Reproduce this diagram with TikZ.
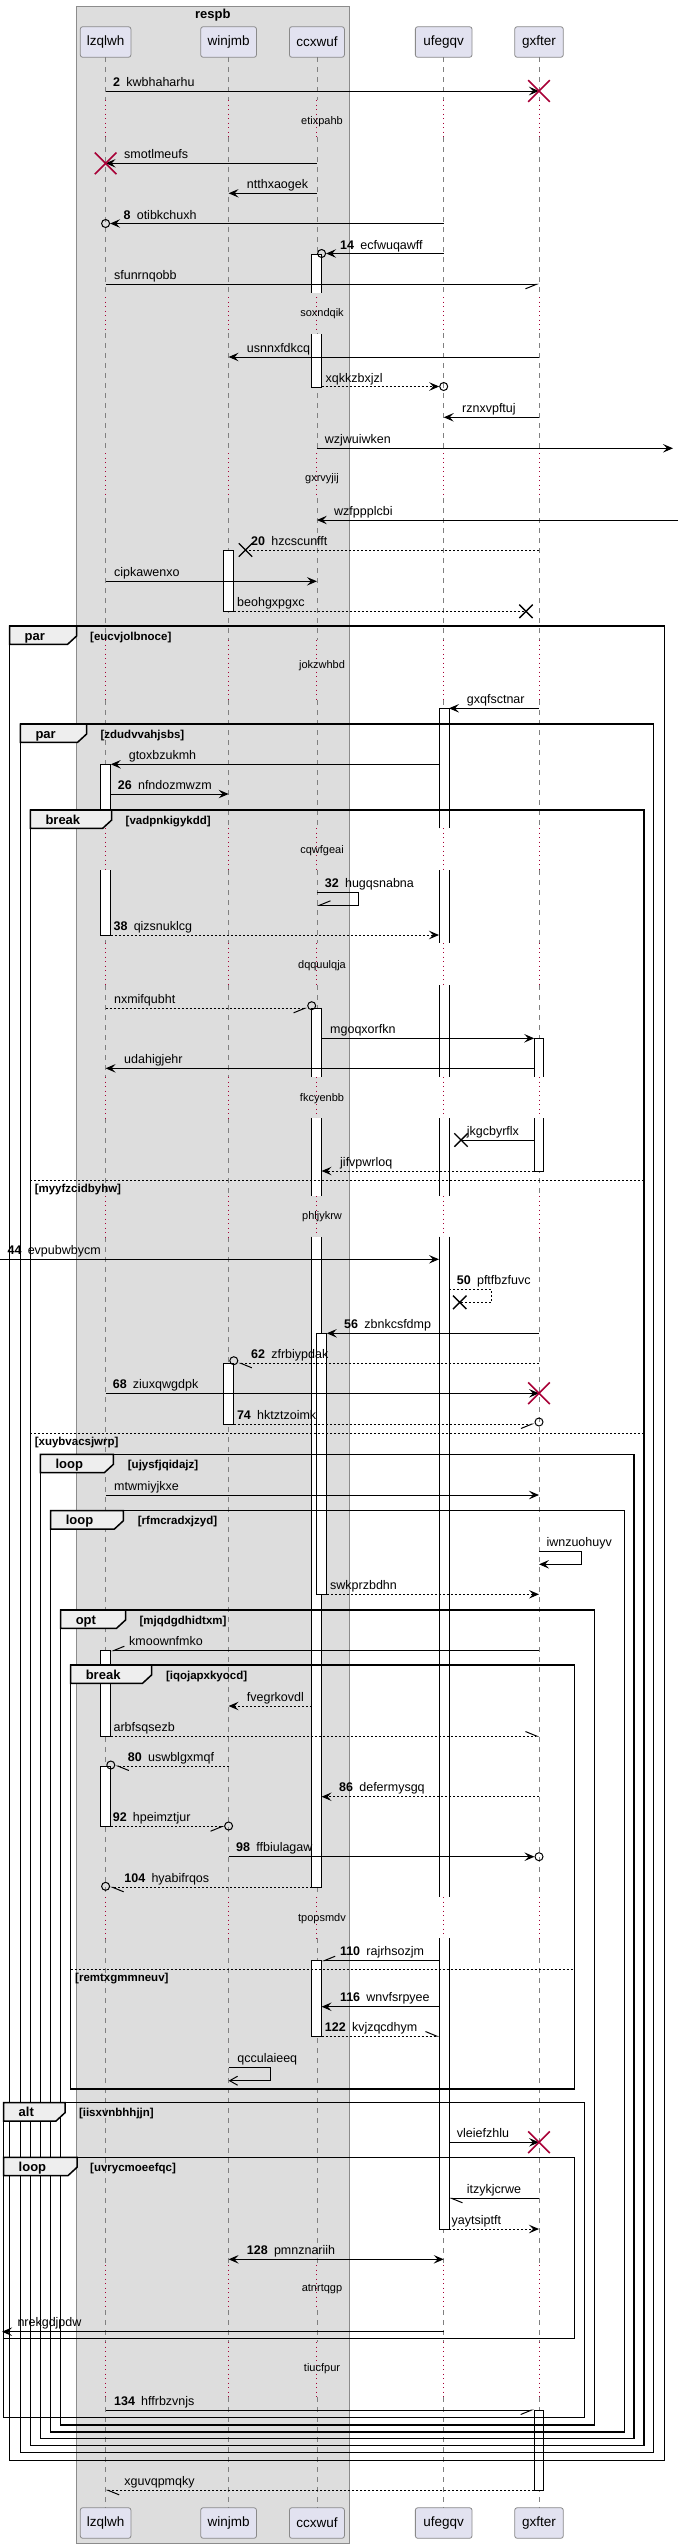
\documentclass[tikz,border=0pt]{standalone}
\usepackage{fontspec}
\setmainfont{Liberation Sans}
\usetikzlibrary{arrows.meta,shapes.misc}

\definecolor{boxgray}{HTML}{DDDDDD}
\definecolor{boxline}{HTML}{8C8C8C}
\definecolor{partfill}{HTML}{E2E2F0}
\definecolor{partline}{HTML}{8A8A8A}
\definecolor{lifegray}{HTML}{808080}
\definecolor{crimson}{HTML}{A80036}
\definecolor{tabfill}{HTML}{EEEEEE}

\newcommand{\seqno}[1]{\textbf{#1}\enspace}

% left, right, top, bottom, tab right, kind, condition, condition x
\newcommand{\seqgroup}[8]{%
  \draw[frameline] (#1,#3) rectangle (#2,#4);
  \filldraw[tab] (#1,#3) -- (#5,#3) -- (#5,#3+10) -- (#5-9,#3+18.3) -- (#1,#3+18.3) -- cycle;
  \node[kindlbl] (k#7) at (#1+15,#3+14) {#6};
  \node[condlbl] (c#7) at (#8,#3+14) {[#7]};
}

\tikzset{
  actor/.style={draw=partline, fill=partfill, rounded corners=2.5pt, minimum height=30.6pt,
    inner sep=0pt, line width=0.8pt, font=\fontsize{13.5}{16}\selectfont},
  lifeline/.style={draw=lifegray, dash pattern=on 5pt off 5pt, line width=0.8pt},
  delayline/.style={draw=crimson, dash pattern=on 1pt off 3.5pt, line width=1pt},
  msg/.style={draw=black, line width=1pt},
  reply/.style={msg, dash pattern=on 2pt off 2pt},
  filltip/.style={-{Stealth[length=10pt,width=8.5pt,inset=4pt]}},
  bothtip/.style={{Stealth[length=10pt,width=8.5pt,inset=4pt]}-{Stealth[length=10pt,width=8.5pt,inset=4pt]}},
  opentip/.style={-{Straight Barb[length=8pt,width=9pt]}},
  leftbarb/.style={-{Straight Barb[harpoon,length=11pt,width=9pt]}},
  rightbarb/.style={-{Straight Barb[harpoon,swap,length=11pt,width=9pt]}},
  lbl/.style={anchor=base west, inner sep=0pt, font=\fontsize{12.5}{14}\selectfont},
  dlbl/.style={inner sep=0pt, font=\fontsize{11}{13}\selectfont},
  kindlbl/.style={anchor=base west, inner sep=0pt, font=\bfseries\fontsize{13}{15}\selectfont},
  condlbl/.style={anchor=base west, inner sep=0pt, font=\bfseries\fontsize{11.5}{13}\selectfont},
  act/.style={draw=black, fill=white, line width=1pt},
  frameline/.style={draw=black, line width=1.5pt},
  tab/.style={frameline, fill=tabfill},
  sep/.style={draw=black, line width=1pt, dash pattern=on 2pt off 2pt},
  redx/.style={cross out, draw=crimson, line width=1.6pt, minimum size=20pt, inner sep=0pt},
  blackx/.style={cross out, draw=black, line width=1.4pt, minimum size=12pt, inner sep=0pt},
  ocirc/.style={circle, draw=black, line width=1pt, minimum size=8pt, inner sep=0pt},
}

\begin{document}
\begin{tikzpicture}[x=1pt, y=-1pt]
  \useasboundingbox (0,0) rectangle (678,2548);

  % box round the first three participants
  \filldraw[fill=boxgray, draw=boxline, line width=0.8pt] (76.6,6) rectangle (349,2543);
  \node[font=\bfseries\fontsize{13}{15}\selectfont] (respb) at (212.8,15.5) {respb};

  % participants
  \node[actor, minimum width=50.7pt] (lzqlwh) at (105.6,42) {lzqlwh};
  \node[actor, minimum width=55.8pt] (winjmb) at (228.6,42) {winjmb};
  \node[actor, minimum width=55pt] (ccxwuf) at (316.9,42) {ccxwuf};
  \node[actor, minimum width=56.7pt] (ufegqv) at (443.7,42) {ufegqv};
  \node[actor, minimum width=48.6pt] (gxfter) at (539,42) {gxfter};
  \node[actor, minimum width=50.7pt] (lzqlwhB) at (105.6,2523) {lzqlwh};
  \node[actor, minimum width=55.8pt] (winjmbB) at (228.6,2523) {winjmb};
  \node[actor, minimum width=55pt] (ccxwufB) at (316.9,2523) {ccxwuf};
  \node[actor, minimum width=56.7pt] (ufegqvB) at (443.7,2523) {ufegqv};
  \node[actor, minimum width=48.6pt] (gxfterB) at (539,2523) {gxfter};

  % edges of activation bars, and of the page
  \coordinate (lzqR) at (110.8,0);
  \coordinate (winR) at (233.8,0);
  \coordinate (ccxL) at (311.7,0);
  \coordinate (ccxR) at (321.6,0);
  \coordinate (ccxRR) at (326.8,0);
  \coordinate (ufeL) at (439,0);
  \coordinate (ufeR) at (449,0);
  \coordinate (gxfL) at (534.2,0);
  \coordinate (lft) at (0,0);
  \coordinate (lftT) at (2,0);
  \coordinate (rgt) at (673,0);
  \coordinate (rgtE) at (678,0);

  % lifelines and delays
  \foreach \p in {lzqlwh,winjmb,ccxwuf,ufegqv,gxfter}{
    \foreach \a/\b in {57.3/100,137/297,333/453,498/640,700/828,870/943,985/1077,1118/1196,1237/1897,1938/2265,2310/2342,2397/2507.3}
      \draw[lifeline] (\p |- 0,\a) -- (\p |- 0,\b);
    \foreach \a/\b in {100/137,297/333,453/498,640/700,828/870,943/985,1077/1118,1196/1237,1897/1938,2265/2310,2342/2397}
      \draw[delayline] (\p |- 0,\a) -- (\p |- 0,\b);
  }
  \node[dlbl] (etixpahb) at (322,121.7) {etixpahb};
  \node[dlbl] (soxndqik) at (322,314) {soxndqik};
  \node[dlbl] (gxrvyjij) at (322,479) {gxrvyjij};
  \node[dlbl] (jokzwhbd) at (322,666) {jokzwhbd};
  \node[dlbl] (cqwfgeai) at (322,850.7) {cqwfgeai};
  \node[dlbl] (dqquulqja) at (322,965.7) {dqquulqja};
  \node[dlbl] (fkcyenbb) at (322,1098.3) {fkcyenbb};
  \node[dlbl] (phljykrw) at (322,1216.7) {phljykrw};
  \node[dlbl] (tpopsmdv) at (322,1918.3) {tpopsmdv};
  \node[dlbl] (atnrtqgp) at (322,2289.3) {atnrtqgp};
  \node[dlbl] (tiucfpur) at (322,2369) {tiucfpur};

  % activations
  \filldraw[act] (100.4,810) -- (100.4,764.3) -- (110.8,764.3) -- (110.8,810);
  \filldraw[act] (100.4,870) -- (100.4,935) -- (110.8,935) -- (110.8,870);
  \filldraw[act] (100.4,1650.7) rectangle (110.8,1736);
  \filldraw[act] (100.4,1766) rectangle (110.8,1826.7);
  \filldraw[act] (223.8,550) rectangle (233.8,611.7);
  \filldraw[act] (223.8,1363.3) rectangle (233.8,1424.3);
  \filldraw[act] (311.7,292.7) -- (311.7,254) -- (321.6,254) -- (321.6,292.7);
  \filldraw[act] (311.7,334) -- (311.7,387.3) -- (321.6,387.3) -- (321.6,334);
  \filldraw[act] (311.7,1076.7) -- (311.7,1008.3) -- (321.6,1008.3) -- (321.6,1076.7);
  \fill[white] (311.7,1118.3) rectangle (321.6,1195.7);
  \draw[act] (311.7,1118.3) -- (311.7,1195.7) (321.6,1118.3) -- (321.6,1195.7);
  \filldraw[act] (311.7,1236.7) -- (311.7,1887.3) -- (321.6,1887.3) -- (321.6,1236.7);
  \filldraw[act] (316.9,1333.3) rectangle (326.8,1594.3);
  \filldraw[act] (311.7,1960.7) rectangle (321.6,2036);
  \filldraw[act] (439,828.3) -- (439,708.3) -- (449,708.3) -- (449,828.3);
  \foreach \a/\b in {870/943.3,985/1076.7,1118.3/1195.7,1236.7/1896.7}{
    \fill[white] (439,\a) rectangle (449,\b);
    \draw[act] (439,\a) -- (439,\b) (449,\a) -- (449,\b);
  }
  \filldraw[act] (439,1938.3) -- (439,2229) -- (449,2229) -- (449,1938.3);
  \filldraw[act] (534.2,1076.7) -- (534.2,1038.3) -- (543.7,1038.3) -- (543.7,1076.7);
  \filldraw[act] (534.2,1118.3) -- (534.2,1171) -- (543.7,1171) -- (543.7,1118.3);
  \filldraw[act] (534.2,2410) rectangle (543.7,2490.3);

  % groups
  \seqgroup{9.5}{664.5}{626}{2460.7}{76.6}{par}{eucvjolbnoce}{90}
  \seqgroup{20.3}{653.7}{724}{2452.7}{86.6}{par}{zdudvvahjsbs}{100.4}
  \seqgroup{30.3}{644.2}{810}{2445.7}{111.7}{break}{vadpnkigykdd}{125.5}
  \seqgroup{40.3}{634.2}{1454.3}{2438.7}{113.4}{loop}{ujysfjqidajz}{127.7}
  \seqgroup{50.6}{624.7}{1510.7}{2432}{123.4}{loop}{rfmcradxjzyd}{137.7}
  \seqgroup{60.6}{594.4}{1610}{2425}{125.5}{opt}{mjqdgdhidtxm}{139.4}
  \seqgroup{70.6}{574.5}{1665}{2089}{151.5}{break}{iqojapxkyocd}{165.8}
  \seqgroup{3.5}{584.4}{2102.7}{2417.3}{65}{alt}{iisxvnbhhjjn}{78.8}
  \seqgroup{3.5}{574.5}{2157.3}{2338.3}{77}{loop}{uvrycmoeefqc}{90}
  \draw[sep] (30.3,1180) -- (644.2,1180);
  \node[condlbl] (myyfzcidbyhw) at (34.6,1192.5) {[myyfzcidbyhw]};
  \draw[sep] (30.3,1433.3) -- (644.2,1433.3);
  \node[condlbl] (xuybvacsjwrp) at (34.6,1445.8) {[xuybvacsjwrp]};
  \draw[sep] (70.6,1969.3) -- (574.5,1969.3);
  \node[condlbl] (remtxgmmneuv) at (75,1981.8) {[remtxgmmneuv]};

  % messages
  \draw[msg, filltip] (lzqlwh |- 0,91) -- (gxfter |- 0,91);
  \node[redx] (end1) at (gxfter |- 0,91) {};
  \node[lbl] (kwbhaharhu) at (113,86) {\seqno{2}kwbhaharhu};

  \draw[msg, filltip] (ccxwuf |- 0,163.3) -- (lzqlwh |- 0,163.3);
  \node[redx] (end2) at (lzqlwh |- 0,163.3) {};
  \node[lbl] (smotlmeufs) at (124,158.3) {smotlmeufs};

  \draw[msg, filltip] (ccxwuf |- 0,193.3) -- (winjmb |- 0,193.3);
  \node[lbl] (ntthxaogek) at (246.7,188.3) {ntthxaogek};

  \node[ocirc] (o8) at (lzqlwh |- 0,223.5) {};
  \draw[msg, filltip] (ufegqv |- o8) -- (o8.east);
  \node[lbl] (otibkchuxh) at (123.4,219.3) {\seqno{8}otibkchuxh};

  \node[ocirc] (o14) at (ccxR |- 0,253.5) {};
  \draw[msg, filltip] (ufegqv |- o14) -- (o14.east);
  \node[lbl] (ecfwuqawff) at (340,249) {\seqno{14}ecfwuqawff};

  \draw[msg, rightbarb] (lzqlwh |- 0,284.3) -- (gxfter |- 0,284.3);
  \node[lbl] (sfunrnqobb) at (113.9,279.3) {sfunrnqobb};

  \draw[msg, filltip] (gxfter |- 0,357) -- (winjmb |- 0,357);
  \node[lbl] (usnnxfdkcq) at (246.7,352) {usnnxfdkcq};

  \node[ocirc] (oxq) at (ufegqv |- 0,386.5) {};
  \draw[reply, filltip] (ccxR |- oxq) -- (oxq.west);
  \node[lbl] (xqkkzbxjzl) at (325.5,382) {xqkkzbxjzl};

  \draw[msg, filltip] (gxfter |- 0,417.3) -- (ufegqv |- 0,417.3);
  \node[lbl] (rznxvpftuj) at (462,412.3) {rznxvpftuj};

  \draw[msg, filltip] (ccxwuf |- 0,448.3) -- (rgt |- 0,448.3);
  \node[lbl] (wzjwuiwken) at (324.7,443.3) {wzjwuiwken};

  \draw[msg, filltip] (rgtE |- 0,520) -- (ccxwuf |- 0,520);
  \node[lbl] (wzfppplcbi) at (334,515) {wzfppplcbi};

  \node[blackx] (x20) at (245.5,550) {};
  \draw[reply] (gxfter |- x20) -- (x20.center);
  \node[lbl] (hzcscunfft) at (251,545) {\seqno{20}hzcscunfft};

  \draw[msg, filltip] (lzqlwh |- 0,581.3) -- (ccxwuf |- 0,581.3);
  \node[lbl] (cipkawenxo) at (114,576.3) {cipkawenxo};

  \node[blackx] (xbeo) at (526,611.3) {};
  \draw[reply] (winR |- xbeo) -- (xbeo.center);
  \node[lbl] (beohgxpgxc) at (237,606.3) {beohgxpgxc};

  \draw[msg, filltip] (gxfter |- 0,708.3) -- (ufeR |- 0,708.3);
  \node[lbl] (gxqfsctnar) at (466.7,703.3) {gxqfsctnar};

  \draw[msg, filltip] (ufeL |- 0,764.3) -- (lzqR |- 0,764.3);
  \node[lbl] (gtoxbzukmh) at (128.6,759.3) {gtoxbzukmh};

  \draw[msg, filltip] (lzqR |- 0,794) -- (winjmb |- 0,794);
  \node[lbl] (nfndozmwzm) at (117.7,789) {\seqno{26}nfndozmwzm};

  \draw[msg, rightbarb] (ccxwuf |- 0,892.3) -- ++(41.5,0) -- ++(0,13) -- (ccxwuf |- 0,905.3);
  \node[lbl] (hugqsnabna) at (324.7,887.3) {\seqno{32}hugqsnabna};

  \draw[reply, filltip] (lzqR |- 0,935) -- (ufeL |- 0,935);
  \node[lbl] (qizsnuklcg) at (113.4,930) {\seqno{38}qizsnuklcg};

  \node[ocirc] (onx) at (ccxL |- 0,1005.7) {};
  \draw[reply, rightbarb] (lzqlwh |- 0,1008.3) -- (onx.west |- 0,1008.3);
  \node[lbl] (nxmifqubht) at (113.9,1003.3) {nxmifqubht};

  \draw[msg, filltip] (ccxR |- 0,1038.3) -- (gxfL |- 0,1038.3);
  \node[lbl] (mgoqxorfkn) at (330,1033.3) {mgoqxorfkn};

  \draw[msg, filltip] (gxfL |- 0,1068.3) -- (lzqlwh |- 0,1068.3);
  \node[lbl] (udahigjehr) at (124,1063.3) {udahigjehr};

  \node[blackx] (xjkg) at (461,1140) {};
  \draw[msg] (gxfL |- xjkg) -- (xjkg.center);
  \node[lbl] (jkgcbyrflx) at (466.7,1135) {jkgcbyrflx};

  \draw[reply, filltip] (gxfL |- 0,1171) -- (ccxR |- 0,1171);
  \node[lbl] (jifvpwrloq) at (340,1166) {jifvpwrloq};

  \draw[msg, filltip] (lft |- 0,1259.3) -- (ufeL |- 0,1259.3);
  \node[lbl] (evpubwbycm) at (7.4,1254.3) {\seqno{44}evpubwbycm};

  \node[blackx] (x50) at (459.7,1302.3) {};
  \draw[reply] (ufeR |- 0,1289.3) -- ++(42.3,0) -- ++(0,13) -- (x50.center);
  \node[lbl] (pftfbzfuvc) at (456.7,1284.3) {\seqno{50}pftfbzfuvc};

  \draw[msg, filltip] (gxfter |- 0,1333.3) -- (ccxRR |- 0,1333.3);
  \node[lbl] (zbnkcsfdmp) at (344,1328.3) {\seqno{56}zbnkcsfdmp};

  \node[ocirc] (o62) at (winR |- 0,1360.7) {};
  \draw[reply, leftbarb] (gxfter |- 0,1363.3) -- (o62.east |- 0,1363.3);
  \node[lbl] (zfrbiypdak) at (251,1358.3) {\seqno{62}zfrbiypdak};

  \draw[msg, filltip] (lzqlwh |- 0,1393.3) -- (gxfter |- 0,1393.3);
  \node[redx] (end3) at (gxfter |- 0,1393.3) {};
  \node[lbl] (ziuxqwgdpk) at (112.6,1388.3) {\seqno{68}ziuxqwgdpk};

  \node[ocirc] (o74) at (gxfter |- 0,1422) {};
  \draw[reply, rightbarb] (winR |- 0,1424) -- (o74.west |- 0,1424);
  \node[lbl] (hktztzoimk) at (236.8,1419) {\seqno{74}hktztzoimk};

  \draw[msg, filltip] (lzqlwh |- 0,1495) -- (gxfter |- 0,1495);
  \node[lbl] (mtwmiyjkxe) at (114,1490) {mtwmiyjkxe};

  \draw[msg, filltip] (gxfter |- 0,1551) -- ++(42,0) -- ++(0,13.3) -- (gxfter |- 0,1564.3);
  \node[lbl] (iwnzuohuyv) at (546.3,1546) {iwnzuohuyv};

  \draw[reply, filltip] (ccxRR |- 0,1594.3) -- (gxfter |- 0,1594.3);
  \node[lbl] (swkprzbdhn) at (330,1589.3) {swkprzbdhn};

  \draw[msg, rightbarb] (gxfter |- 0,1650.7) -- (lzqR |- 0,1650.7);
  \node[lbl] (kmoownfmko) at (129,1645.7) {kmoownfmko};

  \draw[reply, filltip] (ccxL |- 0,1706) -- (winjmb |- 0,1706);
  \node[lbl] (fvegrkovdl) at (246.7,1701) {fvegrkovdl};

  \draw[reply, leftbarb] (lzqR |- 0,1736) -- (gxfter |- 0,1736);
  \node[lbl] (arbfsqsezb) at (113.4,1731) {arbfsqsezb};

  \node[ocirc] (o80) at (lzqR |- 0,1765) {};
  \draw[reply, leftbarb] (winjmb |- 0,1766) -- (o80.east |- 0,1766);
  \node[lbl] (uswblgxmqf) at (127.7,1761) {\seqno{80}uswblgxmqf};

  \draw[reply, filltip] (gxfter |- 0,1796.7) -- (ccxR |- 0,1796.7);
  \node[lbl] (defermysgq) at (339,1791.7) {\seqno{86}defermysgq};

  \node[ocirc] (o92) at (winjmb |- 0,1826) {};
  \draw[reply, rightbarb] (lzqR |- 0,1826.7) -- (o92.west |- 0,1826.7);
  \node[lbl] (hpeimztjur) at (112.6,1821.7) {\seqno{92}hpeimztjur};

  \node[ocirc] (o98) at (gxfter |- 0,1856.7) {};
  \draw[msg, filltip] (winjmb |- o98) -- (o98.west);
  \node[lbl] (ffbiulagaw) at (236,1851.7) {\seqno{98}ffbiulagaw};

  \node[ocirc] (o104) at (lzqlwh |- 0,1886.3) {};
  \draw[reply, leftbarb] (ccxL |- 0,1887.3) -- (o104.east |- 0,1887.3);
  \node[lbl] (hyabifrqos) at (124.2,1882.3) {\seqno{104}hyabifrqos};

  \draw[msg, rightbarb] (ufeL |- 0,1960.7) -- (ccxR |- 0,1960.7);
  \node[lbl] (rajrhsozjm) at (339.8,1955.7) {\seqno{110}rajrhsozjm};

  \draw[msg, filltip] (ufeL |- 0,2006.7) -- (ccxR |- 0,2006.7);
  \node[lbl] (wnvfsrpyee) at (339.8,2001.7) {\seqno{116}wnvfsrpyee};

  \draw[reply, leftbarb] (ccxR |- 0,2036) -- (ufeL |- 0,2036);
  \node[lbl] (kvjzqcdhym) at (324.7,2031) {\seqno{122}kvjzqcdhym};

  \draw[msg, opentip] (winjmb |- 0,2067.7) -- ++(42,0) -- ++(0,13) -- (winjmb |- 0,2080.7);
  \node[lbl] (qcculaieeq) at (237.2,2062.7) {qcculaieeq};

  \draw[msg, filltip] (ufeR |- 0,2142.3) -- (gxfter |- 0,2142.3);
  \node[redx] (end4) at (gxfter |- 0,2142.3) {};
  \node[lbl] (vleiefzhlu) at (456.7,2137.3) {vleiefzhlu};

  \draw[msg, leftbarb] (gxfter |- 0,2198.3) -- (ufeR |- 0,2198.3);
  \node[lbl] (itzykjcrwe) at (466.7,2193.3) {itzykjcrwe};

  \draw[reply, filltip] (ufeR |- 0,2229) -- (gxfter |- 0,2229);
  \node[lbl] (yaytsiptft) at (451.5,2224) {yaytsiptft};

  \draw[msg, bothtip] (winjmb |- 0,2259.3) -- (ufegqv |- 0,2259.3);
  \node[lbl] (pmnznariih) at (246.7,2254.3) {\seqno{128}pmnznariih};

  \draw[msg, filltip] (ufegqv |- 0,2331.7) -- (lftT |- 0,2331.7);
  \node[lbl] (nrekgdjpdw) at (17.3,2326.7) {nrekgdjpdw};

  \draw[msg, rightbarb] (lzqlwh |- 0,2410) -- (gxfL |- 0,2410);
  \node[lbl] (hffrbzvnjs) at (113.9,2405) {\seqno{134}hffrbzvnjs};

  \draw[reply, leftbarb] (gxfL |- 0,2490.3) -- (lzqlwh |- 0,2490.3);
  \node[lbl] (xguvqpmqky) at (124.2,2485.3) {xguvqpmqky};
\end{tikzpicture}
\end{document}
